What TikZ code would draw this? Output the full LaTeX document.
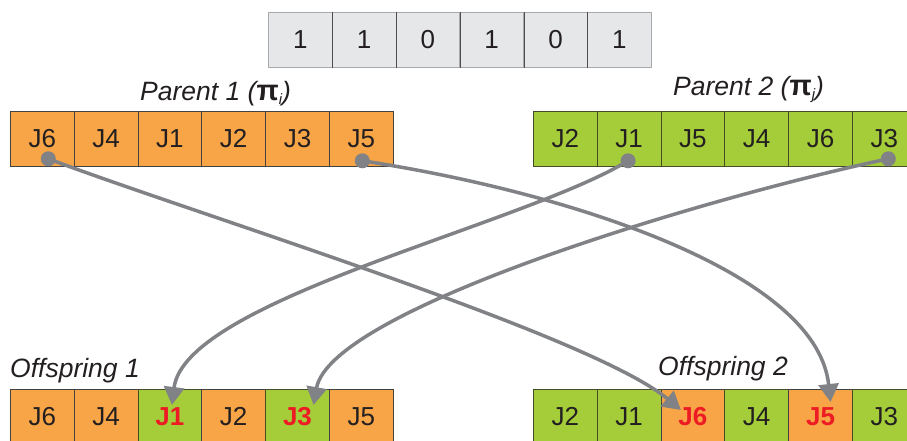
\documentclass[tikz,border=0pt]{standalone}
\usepackage{fontspec}
\setmainfont{Liberation Sans}
\usetikzlibrary{calc,arrows.meta}
\definecolor{orng}{HTML}{F7A546}
\definecolor{grn}{HTML}{A5CD39}
\definecolor{maskf}{HTML}{E6E7E8}
\definecolor{maskb}{HTML}{A7A9AC}
\definecolor{arr}{HTML}{808285}
\definecolor{txtred}{HTML}{ED1C24}
\definecolor{ink}{HTML}{231F20}
\begin{document}
\begin{tikzpicture}[x=1pt,y=-1pt,
 cell/.style={draw=ink!85, line width=0.8pt, minimum width=63.8pt, minimum height=55pt, inner sep=0pt, font=\fontsize{26}{26}\selectfont, text=ink, anchor=north west},
 ocell/.style={cell, fill=orng},
 gcell/.style={cell, fill=grn, draw=ink!75!grn},
 mcell/.style={cell, fill=maskf, draw=maskb},
 hit/.style={font=\bfseries\fontsize{26}{26}\selectfont, text=txtred},
 lbl/.style={font=\itshape\fontsize{26.5}{26.5}\selectfont, text=ink, anchor=base west, inner sep=0pt},
 link/.style={draw=arr, line width=3.5pt, -{Triangle[length=18pt,width=20pt]}},
 dot/.style={fill=arr}]
\useasboundingbox (0,0) rectangle (907,441);
\clip (0,0) rectangle (907,441);
% mask
\foreach \t [count=\k from 0] in {1,1,0,1,0,1}
  \node[mcell] (m\k) at (268+63.8*\k,12) {\t};
\foreach \k in {0,...,4}
  \draw[ink!80, line width=0.8pt] (m\k.north east) -- (m\k.south east);
% parents
\foreach \t [count=\k from 0] in {J6,J4,J1,J2,J3,J5}
  \node[ocell] (pa\k) at (10+63.8*\k,111) {\t};
\foreach \t [count=\k from 0] in {J2,J1,J5,J4,J6,J3}
  \node[gcell] (pb\k) at (533+63.8*\k,111) {\t};
% offspring 1
\node[ocell] (oa0) at (10,389) {J6};
\node[ocell] (oa1) at (10+63.8,389) {J4};
\node[gcell,hit] (oa2) at (10+2*63.8,389) {J1};
\node[ocell] (oa3) at (10+3*63.8,389) {J2};
\node[gcell,hit] (oa4) at (10+4*63.8,389) {J3};
\node[ocell] (oa5) at (10+5*63.8,389) {J5};
% offspring 2
\node[gcell] (ob0) at (533,389) {J2};
\node[gcell] (ob1) at (533+63.8,389) {J1};
\node[ocell,hit] (ob2) at (533+2*63.8,389) {J6};
\node[gcell] (ob3) at (533+3*63.8,389) {J4};
\node[ocell,hit] (ob4) at (533+4*63.8,389) {J5};
\node[gcell] (ob5) at (533+5*63.8,389) {J3};
% labels
\node[lbl] (l1) at (140,101) {Parent 1 ({\upshape\bfseries\fontsize{29}{29}\selectfont π}\raisebox{-4pt}{\fontsize{15}{15}\selectfont\itshape i})};
\node[lbl] (l2) at (673,96) {Parent 2 ({\upshape\bfseries\fontsize{29}{29}\selectfont π}\raisebox{-4pt}{\fontsize{15}{15}\selectfont\itshape j})};
\node[lbl] (l3) at (10,377) {Offspring 1};
\node[lbl] (l4) at (658,375) {Offspring 2};
% link end points
\coordinate (s1) at ($(pa0.south)+(6,-8)$);
\coordinate (s2) at ($(pa5.south)+(1,-6)$);
\coordinate (s3) at ($(pb1.south)+(-1,-6)$);
\coordinate (s4) at ($(pb5.south)+(4,-8)$);
\coordinate (t1) at ($(oa2.north)+(2,16)$);
\coordinate (t2) at ($(oa4.north)+(16,16)$);
\coordinate (t3) at ($(ob2.north)+(-12,21)$);
\coordinate (t4) at ($(ob4.north)+(10,13)$);
% links
\draw[link] (s1) .. controls +(152,57) and +(-90,-75) .. (t3);
\draw[link] (s2) .. controls +(198,30) and +(-14,-132) .. (t4);
\draw[link] (s3) .. controls +(-107,65) and +(13,-105) .. (t1);
\draw[link] (s4) .. controls +(-188,40) and +(17,-95) .. (t2);
\foreach \s in {s1,s2,s3,s4} \fill[dot] (\s) circle (7.5);
\end{tikzpicture}
\end{document}
